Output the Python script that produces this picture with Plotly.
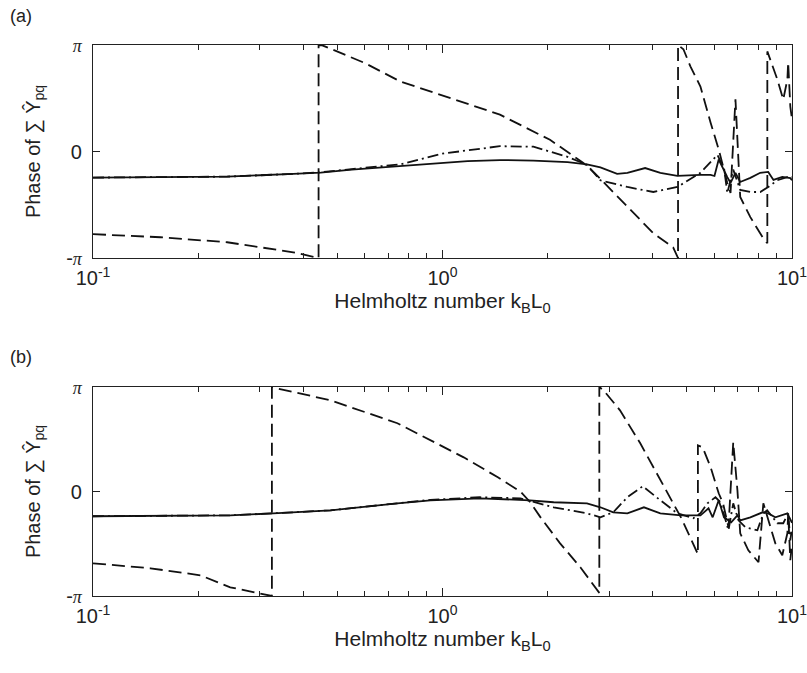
import plotly.graph_objects as go

# ---------------- data (phase in units of pi) ----------------
# Panel (a)
xa_solid = [0.1, 0.242, 0.374, 0.448, 0.55, 0.76, 1.0, 1.18, 1.46, 1.82, 2.28, 2.59, 2.83, 3.16, 3.38,
            3.8, 4.2, 4.7, 5.47, 5.85, 6.0, 6.17, 6.53, 6.67, 6.89, 7.11, 7.6, 8.11, 8.55, 8.85, 9.38, 9.89, 10.0]
ya_solid = [-0.245, -0.236, -0.21, -0.198, -0.17, -0.135, -0.105, -0.09, -0.08, -0.085, -0.1, -0.12, -0.15, -0.21, -0.2,
            -0.155, -0.2, -0.229, -0.22, -0.22, -0.23, -0.075, -0.24, -0.295, -0.2, -0.286, -0.248, -0.2, -0.192, -0.267, -0.239, -0.25, -0.27]

xa_dashdot = [0.1, 0.242, 0.374, 0.448, 0.55, 0.76, 1.0, 1.18, 1.46, 1.82, 2.03, 2.28, 2.59, 2.83, 3.38, 4.01, 4.7, 5.47,
              6.12, 6.4, 6.53, 6.79, 7.11, 7.6, 8.11, 8.55, 9.08, 9.89, 10.0]
ya_dashdot = [-0.245, -0.236, -0.21, -0.195, -0.165, -0.12, -0.02, 0.01, 0.05, 0.045, 0.0, -0.05, -0.125, -0.27, -0.333, -0.38, -0.333, -0.2,
              -0.031, -0.17, -0.39, -0.17, -0.36, -0.38, -0.38, -0.333, -0.27, -0.23, -0.24]

xa_dash = [0.1, 0.156, 0.242, 0.374, 0.442, 0.442, 0.453, 0.6, 0.757, 1.0, 1.46, 2.03, 2.53, 2.72, 3.38, 4.01, 4.57, 4.72, 4.72, 4.89, 5.12,
           5.47, 5.85, 6.17, 6.53, 6.67, 6.89, 7.11, 7.6, 8.24, 8.5, 8.5, 9.08, 9.44, 9.7, 9.75, 9.89, 10.0]
ya_dash = [-0.776, -0.805, -0.852, -0.946, -1.0, 1.0, 0.997, 0.83, 0.658, 0.525, 0.346, 0.11, -0.107, -0.2, -0.522, -0.767, -0.9, -1.0, 1.0, 0.96, 0.8,
           0.61, 0.27, 0.02, -0.295, -0.39, 0.49, -0.427, -0.616, -0.805, -0.861, 0.94, 0.676, 0.488, 0.676, 0.837, 0.422, 0.3]

# Panel (b)
xb_solid = [0.1, 0.203, 0.247, 0.328, 0.478, 0.743, 0.923, 1.28, 1.78, 2.08, 2.59, 2.83, 3.08, 3.38, 3.77, 4.2, 4.81, 5.47, 5.77, 5.93,
            6.17, 6.39, 6.7, 6.98, 7.11, 7.6, 8.24, 8.55, 8.96, 9.7, 9.89, 10.0]
yb_solid = [-0.237, -0.235, -0.228, -0.209, -0.18, -0.113, -0.084, -0.065, -0.084, -0.103, -0.113, -0.151, -0.199, -0.209, -0.151, -0.209, -0.228, -0.228, -0.161, -0.247,
            -0.084, -0.247, -0.295, -0.228, -0.276, -0.247, -0.199, -0.209, -0.247, -0.209, -0.276, -0.3]

xb_dashdot = [0.1, 0.203, 0.247, 0.328, 0.478, 0.743, 0.923, 1.28, 1.67, 2.08, 2.59, 2.83, 3.08, 3.38, 3.74, 4.2, 4.7, 5.22, 5.47, 5.73,
              6.04, 6.24, 6.58, 6.79, 7.03, 7.36, 7.96, 8.28, 8.49, 9.08, 9.44, 9.75, 9.89, 10.0]
yb_dashdot = [-0.237, -0.235, -0.228, -0.209, -0.18, -0.113, -0.08, -0.055, -0.065, -0.151, -0.209, -0.247, -0.199, -0.055, 0.05, -0.084, -0.209, -0.256, -0.209, -0.113,
              -0.055, -0.103, -0.371, -0.113, -0.276, -0.343, -0.371, -0.209, -0.18, -0.304, -0.304, -0.209, -0.467, -0.35]

xb_dash = [0.1, 0.146, 0.203, 0.247, 0.325, 0.325, 0.333, 0.478, 0.743, 1.15, 1.44, 1.67, 1.78, 1.91, 2.17, 2.48, 2.81, 2.81, 2.89, 3.22,
           3.68, 4.2, 4.81, 5.38, 5.38, 5.55, 5.85, 6.17, 6.35, 6.58, 6.79, 6.98, 7.11, 7.5, 8.02, 8.28, 8.55, 8.96, 9.38, 9.7,
           9.75, 9.89, 10.0]
yb_dash = [-0.687, -0.735, -0.802, -0.917, -1.0, 1.0, 0.99, 0.873, 0.653, 0.327, 0.136, 0.0, -0.1, -0.25, -0.496, -0.725, -0.97, 1.0, 0.968, 0.777,
           0.461, 0.107, -0.247, -0.6, 0.442, 0.423, 0.232, -0.017, -0.113, -0.343, 0.471, 0.011, -0.4, -0.563, -0.677, -0.113, -0.276, -0.496, -0.61, -0.4,
           -0.209, -0.658, -0.5]

x_tickvals = [0.1, 1, 10]
x_ticktext = ["10<sup>-1</sup>", "10<sup>0</sup>", "10<sup>1</sup>"]
x_minor = [0.2, 0.3, 0.4, 0.5, 0.6, 0.7, 0.8, 0.9, 2, 3, 4, 5, 6, 7, 8, 9]
y_tickvals = [-1, 0, 1]
PI = "<span style='font-family:Liberation Serif;font-size:18px'><i>π</i></span>"
y_ticktext = ["-" + PI, "0", PI]
x_title = "Helmholtz number k<sub>B</sub>L<sub>0</sub>"
y_title = "Phase of ∑ Ŷ<sub>pq</sub>"
panel_labels = ["(a)", "(b)"]

# ---------------- figure ----------------
INK = "#222222"
FONT = "Liberation Sans, Arial, sans-serif"
fig = go.Figure()


def add(x, y, dash, xa, ya):
    fig.add_trace(go.Scatter(x=x, y=y, mode="lines", xaxis=xa, yaxis=ya, showlegend=False,
                             hoverinfo="skip", line=dict(color="#111111", width=1.8, dash=dash)))


DASH = "13px,6px"
DASHDOT = "11px,4px,2px,4px"
add(xa_dash, ya_dash, DASH, "x", "y")
add(xa_dashdot, ya_dashdot, DASHDOT, "x", "y")
add(xa_solid, ya_solid, "solid", "x", "y")
add(xb_dash, yb_dash, DASH, "x2", "y2")
add(xb_dashdot, yb_dashdot, DASHDOT, "x2", "y2")
add(xb_solid, yb_solid, "solid", "x2", "y2")


def xaxis(anchor):
    return dict(type="log", range=[-1, 1], anchor=anchor, tickmode="array", tickvals=x_tickvals,
                ticktext=x_ticktext, ticks="inside", ticklen=8, tickwidth=1, tickcolor=INK,
                showline=True, linecolor=INK, linewidth=1.3, mirror="ticks", showgrid=False,
                zeroline=False, automargin=False, ticklabelstandoff=2, ticklabeloverflow="allow",
                minor=dict(tickmode="array", tickvals=x_minor, ticks="inside", ticklen=5,
                           tickwidth=1, tickcolor=INK, showgrid=False),
                tickfont=dict(family=FONT, size=20, color=INK),
                title=dict(text=x_title, font=dict(family=FONT, size=21, color=INK), standoff=1))


def yaxis(domain, anchor):
    return dict(range=[-1, 1], domain=domain, anchor=anchor, tickmode="array", tickvals=y_tickvals,
                ticktext=y_ticktext, ticks="inside", ticklen=7, tickwidth=1, tickcolor=INK,
                showline=True, linecolor=INK, linewidth=1.3, mirror="ticks", showgrid=False,
                zeroline=False, ticklabelstandoff=6, automargin=False,
                tickfont=dict(family=FONT, size=20, color=INK),
                title=dict(text=y_title, font=dict(family=FONT, size=20, color=INK), standoff=20))


fig.update_layout(
    width=807, height=673,
    margin=dict(l=93, r=15, t=45, b=77),
    paper_bgcolor="white", plot_bgcolor="white",
    xaxis=xaxis("y"), yaxis=yaxis([0.6134, 1.0], "x"),
    xaxis2=xaxis("y2"), yaxis2=yaxis([0.0, 0.3793], "x2"),
    annotations=[
        dict(text=panel_labels[0], xref="paper", yref="paper", x=-0.122, y=1.052, xanchor="left",
             yanchor="middle", showarrow=False, font=dict(family=FONT, size=18, color=INK)),
        dict(text=panel_labels[1], xref="paper", yref="paper", x=-0.122, y=0.434, xanchor="left",
             yanchor="middle", showarrow=False, font=dict(family=FONT, size=18, color=INK)),
    ],
)

# remove the default 8px page margin so the figure fills the window exactly
fig.write_html("out.html", config={"displayModeBar": False},
               post_script="document.body.style.margin='0px';")
